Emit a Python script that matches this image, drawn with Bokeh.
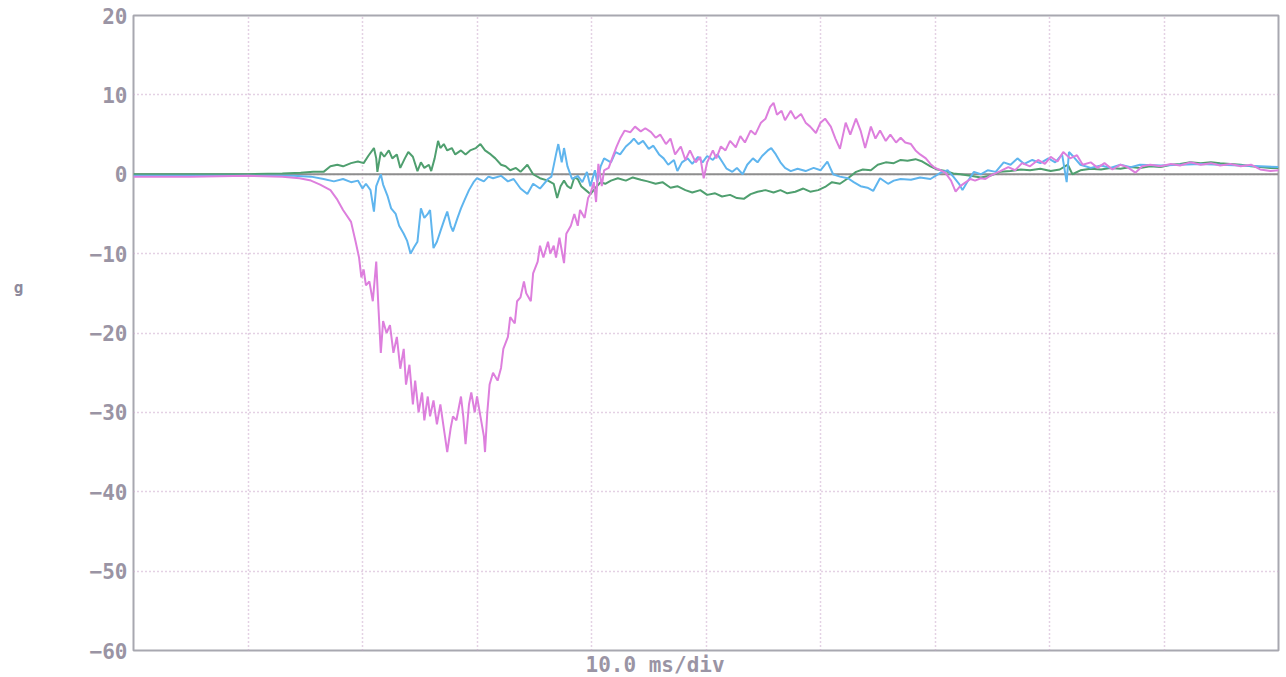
from bokeh.plotting import figure
from bokeh.models import Range1d, FixedTicker, LinearAxis, Title
from bokeh.embed import file_html
from bokeh.resources import INLINE

# ---- data (time in ms, acceleration in g) ----
t_mag = [0, 5, 10, 13, 14.5, 15.5, 16.3, 17.2, 17.8, 18.3, 19.0, 19.4, 19.7, 19.9, 20.1, 20.3, 20.6, 20.9,
         21.2, 21.4, 21.6, 21.8, 22.1, 22.4, 22.7, 23.0, 23.3, 23.6, 23.8, 24.1, 24.4, 24.6, 24.9, 25.2,
         25.4, 25.7, 25.9, 26.2, 26.5, 26.8, 27.2, 27.4, 27.7, 27.9, 28.2, 28.6, 28.8, 29.0, 29.3, 29.5,
         29.8, 30.0, 30.3, 30.6, 30.7, 30.9, 31.1, 31.4, 31.8, 32.1, 32.3, 32.7, 32.9, 33.3, 33.5, 33.8,
         34.1, 34.3, 34.7, 34.9, 35.3, 35.5, 35.8, 36.2, 36.4, 36.7, 36.9, 37.2, 37.6, 37.8, 38.2, 38.5,
         38.8, 39.0, 39.4, 39.7, 39.9, 40.2, 40.4, 40.6, 40.9, 41.1, 41.5, 41.8, 42.2, 42.5, 42.9, 43.4,
         43.8, 44.3, 44.7, 45.2, 45.6, 46.0, 46.5, 46.9, 47.3, 47.8, 48.2, 48.6, 49.1, 49.5, 49.8, 50.1,
         50.6, 50.9, 51.3, 51.7, 52.1, 52.6, 53.0, 53.4, 53.9, 54.3, 54.8, 55.2, 55.6, 55.9, 56.2, 56.6,
         56.9, 57.4, 57.8, 58.3, 58.7, 59.1, 59.6, 60.0, 60.4, 60.9, 61.3, 61.7, 62.2, 62.6, 63.1, 63.5,
         63.9, 64.4, 64.8, 65.2, 65.7, 66.1, 66.6, 67.0, 67.4, 67.9, 68.3, 68.7, 69.2, 69.6, 70.0, 70.5,
         70.9, 71.4, 71.8, 72.2, 72.7, 73.1, 73.5, 74.0, 74.4, 74.8, 75.7, 76.4, 77.0, 77.6, 78.3, 79.0,
         79.6, 80.1, 80.7, 81.2, 81.8, 82.4, 82.9, 83.6, 84.2, 84.8, 85.5, 86.2, 86.8, 87.5, 88.1, 88.8,
         89.7, 90.6, 91.4, 92.3, 93.2, 94.1, 94.9, 95.8, 96.7, 97.6, 98.4, 99.3, 100]
g_mag = [-0.3, -0.3, -0.2, -0.3, -0.5, -0.8, -1.3, -2.0, -3.2, -4.5, -6.0, -8.5, -10.5, -13.0, -12.0, -14.0,
         -13.5, -16.0, -11.0, -17.0, -22.5, -18.5, -20.0, -19.0, -22.5, -20.5, -24.5, -22.0, -26.5, -24.0,
         -29.0, -26.0, -30.0, -27.5, -31.0, -28.0, -30.5, -28.5, -31.5, -29.0, -33.0, -35.0, -32.0, -30.5,
         -31.0, -28.0, -30.5, -34.0, -29.0, -27.5, -30.0, -28.0, -30.5, -33.0, -35.0, -30.0, -26.5, -25.0,
         -26.0, -24.4, -22.0, -20.5, -18.0, -18.8, -16.0, -15.5, -13.5, -15.0, -16.0, -12.5, -11.0, -9.0,
         -10.5, -8.5, -10.0, -9.0, -10.5, -8.0, -11.2, -7.5, -6.5, -5.0, -6.5, -4.5, -5.5, -3.0, -2.5, -1.0,
         -3.5, 1.3, -1.5, 0.5, 0.8, 2.0, 3.5, 4.5, 5.5, 5.3, 6.0, 5.4, 5.8, 5.3, 4.6, 5.0, 3.8, 4.5, 2.5,
         3.5, 1.8, 3.0, 1.5, 2.2, -0.5, 1.5, 3.0, 2.0, 3.5, 3.0, 4.2, 3.4, 4.8, 4.0, 5.5, 5.0, 6.5, 7.0,
         8.5, 9.0, 7.5, 8.0, 6.8, 8.0, 7.0, 7.6, 6.5, 6.0, 5.2, 6.5, 7.0, 6.0, 4.5, 3.2, 6.5, 5.0, 7.0, 5.5,
         3.3, 6.0, 4.5, 5.5, 4.2, 5.0, 4.0, 4.6, 4.0, 3.8, 3.0, 2.5, 2.0, 1.3, 0.8, 0.5, 0.2, -0.8, -2.2,
         -1.5, -1.0, -0.6, -0.8, -0.5, -0.6, -0.2, 0.4, 0.9, 0.5, 1.4, 1.0, 1.8, 1.3, 2.2, 1.6, 2.8, 2.0,
         2.4, 1.2, 1.5, 0.8, 1.4, 0.6, 1.2, 0.9, 0.2, 1.0, 1.2, 1.0, 1.3, 1.1, 1.5, 1.2, 1.4, 1.1, 1.3, 1.0,
         1.2, 0.6, 0.4, 0.5]

t_blue = [0, 5, 10, 14, 15.5, 16.6, 17.5, 18.3, 19.0, 19.6, 20.0, 20.3, 20.7, 21.0, 21.2, 21.6, 21.8, 22.2,
          22.5, 22.9, 23.2, 23.6, 23.9, 24.2, 24.5, 24.8, 25.1, 25.4, 25.7, 25.9, 26.2, 26.5, 26.8, 27.2,
          27.4, 27.7, 27.9, 28.3, 28.6, 28.9, 29.3, 29.7, 30.0, 30.6, 31.0, 31.4, 32.1, 32.7, 33.2, 33.8,
          34.4, 34.9, 35.5, 36.2, 36.5, 36.9, 37.1, 37.4, 37.6, 37.9, 38.3, 38.8, 39.2, 39.6, 39.9, 40.3,
          40.5, 40.8, 41.1, 41.7, 42.1, 42.5, 43.0, 43.4, 43.7, 44.1, 44.5, 45.0, 45.4, 45.9, 46.3, 46.7,
          47.2, 47.5, 47.9, 48.4, 48.8, 49.3, 49.7, 50.1, 50.6, 51.0, 51.4, 51.8, 52.3, 52.7, 53.2, 53.6,
          54.1, 54.5, 54.9, 55.4, 55.7, 56.1, 56.5, 56.9, 57.4, 58.0, 58.7, 59.4, 60.0, 60.6, 61.1, 61.7,
          62.4, 62.9, 63.5, 64.1, 64.6, 65.2, 65.9, 66.4, 67.0, 67.9, 68.7, 69.6, 70.5, 71.1, 71.6, 72.1,
          72.4, 72.8, 73.4, 74.0, 74.6, 75.3, 76.0, 76.6, 77.2, 77.8, 78.5, 79.2, 79.9, 80.5, 81.1, 81.5,
          81.7, 82.1, 82.7, 83.6, 84.5, 85.3, 86.2, 87.1, 87.9, 89.7, 91.4, 93.2, 94.9, 96.7, 98.4, 100]
g_blue = [-0.2, -0.2, -0.2, -0.2, -0.3, -0.6, -0.9, -0.6, -1.0, -0.8, -1.8, -1.2, -2.0, -4.7, -1.5, 0.0,
          -1.3, -2.8, -4.3, -5.0, -6.5, -7.5, -8.4, -10.0, -9.2, -8.5, -4.3, -5.5, -5.0, -4.5, -9.3, -8.5,
          -7.2, -5.5, -4.7, -6.5, -7.2, -5.5, -4.3, -3.3, -2.0, -1.0, -0.5, -0.9, -0.3, -0.5, -0.2, -0.9,
          -0.6, -1.8, -2.5, -1.2, -1.8, -0.6, -0.3, 2.5, 3.8, 1.5, 3.3, 1.0, -0.6, -0.2, -1.0, 0.3, -1.5,
          0.5, -1.0, 1.0, 2.0, 1.5, 2.8, 2.5, 3.5, 4.0, 4.5, 3.8, 4.2, 3.2, 3.6, 2.5, 2.0, 1.2, 1.8, 0.4,
          1.5, 2.0, 1.3, 2.2, 1.5, 2.3, 1.8, 2.5, 1.6, 0.7, 0.3, 0.8, 0.0, 1.2, 2.0, 1.5, 2.3, 3.0, 3.3,
          2.5, 1.5, 0.8, 0.4, 0.7, 0.4, 0.8, 0.5, 1.6, 0.0, -0.3, -0.5, -1.0, -1.5, -1.7, -2.1, -0.5, -1.2,
          -0.8, -0.6, -0.7, -0.4, -0.6, 0.2, 0.5, -0.3, -1.2, -2.0, -1.0, 0.3, 0.0, 0.5, 0.3, 1.5, 1.2,
          2.0, 1.3, 1.8, 1.4, 2.0, 1.5, 2.5, -1.0, 2.8, 2.2, 1.2, 0.8, 1.1, 0.8, 1.2, 0.9, 1.2, 1.1, 1.2,
          1.3, 1.2, 1.1, 1.0, 0.9]

t_green = [0, 10, 13, 14.6, 15.7, 16.6, 17.2, 17.8, 18.3, 19.0, 19.6, 20.1, 20.5, 21.0, 21.2, 21.3, 21.6,
           21.9, 22.3, 22.6, 23.0, 23.3, 23.7, 24.0, 24.4, 24.8, 25.1, 25.4, 25.8, 26.0, 26.3, 26.6, 26.8,
           27.1, 27.4, 27.8, 28.1, 28.6, 29.0, 29.4, 29.9, 30.3, 30.7, 31.2, 31.6, 32.1, 32.5, 32.9, 33.4,
           33.8, 34.4, 34.9, 35.5, 36.2, 36.7, 37.0, 37.3, 37.6, 37.9, 38.2, 38.5, 38.8, 39.1, 39.5, 39.9,
           40.3, 40.8, 41.2, 41.7, 42.3, 43.0, 43.6, 44.3, 44.9, 45.6, 46.2, 46.9, 47.5, 48.2, 48.8, 49.5,
           50.1, 50.8, 51.4, 52.1, 52.7, 53.3, 53.9, 54.5, 55.2, 55.9, 56.5, 57.1, 57.8, 58.5, 59.1, 59.8,
           60.4, 61.0, 61.7, 62.4, 63.1, 63.7, 64.4, 65.0, 65.7, 66.4, 67.0, 67.6, 68.3, 68.9, 69.6, 70.2,
           70.9, 71.6, 72.2, 73.1, 74.0, 74.8, 75.7, 76.6, 77.5, 78.3, 79.2, 80.1, 80.9, 81.6, 82.0, 82.7,
           83.6, 84.5, 85.3, 86.2, 87.1, 87.9, 88.8, 89.7, 90.6, 91.4, 92.3, 93.2, 94.1, 94.9, 95.8, 96.7,
           97.6, 98.4, 99.3, 100]
g_green = [0.0, 0.0, 0.1, 0.2, 0.3, 0.3, 1.0, 1.2, 1.0, 1.4, 1.6, 1.4, 2.3, 3.3, 2.0, 0.3, 2.8, 2.2, 3.0,
           2.0, 2.5, 0.8, 2.0, 2.8, 2.2, 0.4, 1.5, 0.8, 1.2, 0.4, 2.0, 4.2, 3.3, 3.8, 3.0, 3.3, 2.5, 3.0,
           2.5, 3.0, 3.3, 3.8, 3.0, 2.5, 2.0, 1.2, 1.0, 0.5, 0.8, 0.3, 1.2, 0.0, -0.5, -0.8, -1.2, -3.0,
           -1.5, -0.8, -1.5, -1.8, -0.4, -0.6, -1.5, -2.0, -2.5, -1.8, -1.0, -1.2, -0.8, -0.5, -0.8, -0.4,
           -0.7, -0.9, -1.2, -1.0, -1.7, -1.5, -2.0, -2.3, -2.0, -2.6, -2.4, -2.8, -2.6, -3.0, -3.1, -2.5,
           -2.2, -2.0, -2.3, -2.0, -2.4, -2.2, -1.8, -2.2, -2.0, -1.6, -1.0, -1.2, -0.5, 0.3, 0.6, 0.5, 1.2,
           1.5, 1.4, 1.8, 1.7, 1.9, 1.6, 1.0, 0.6, 0.4, 0.1, 0.0, -0.2, -0.4, -0.2, 0.3, 0.4, 0.6, 0.5, 0.7,
           0.4, 0.6, 1.2, 0.0, 0.5, 0.7, 0.6, 0.8, 0.7, 0.9, 0.8, 1.0, 0.9, 1.2, 1.3, 1.5, 1.4, 1.5, 1.4,
           1.3, 1.2, 1.0, 0.9, 0.8, 0.8]

y_ticks = [-60, -50, -40, -30, -20, -10, 0, 10, 20]
x_ticks = [0, 10, 20, 30, 40, 50, 60, 70, 80, 90, 100]
x_label = "10.0 ms/div"
y_label = "g"

FONT = "DejaVu Sans Mono"
LABEL_COLOR = "#9a94a4"

p = figure(width=1280, height=676, output_backend="svg", toolbar_location=None,
           x_range=Range1d(0, 100), y_range=Range1d(-60, 20),
           min_border_left=133, min_border_right=2, min_border_top=15, min_border_bottom=26)

p.background_fill_color = "white"
p.border_fill_color = "white"
p.outline_line_color = "#a8a8b0"
p.outline_line_width = 2

# grids
p.xgrid.ticker = FixedTicker(ticks=x_ticks)
p.ygrid.ticker = FixedTicker(ticks=y_ticks)
for gr in (p.xgrid, p.ygrid):
    gr.grid_line_color = "#c9a3c9"
    gr.grid_line_dash = "1 3"
    gr.grid_line_width = 1.5

# x axis hidden (divisions shown by grid only); label as a title below
p.xaxis.visible = False
p.add_layout(Title(text=x_label, align="left", offset=452, standoff=0,
                   text_font=FONT, text_font_style="bold", text_font_size="21px",
                   text_color=LABEL_COLOR), "below")

# y axis with tick labels
p.yaxis.ticker = FixedTicker(ticks=y_ticks)
p.yaxis.major_tick_line_color = None
p.yaxis.minor_tick_line_color = None
p.yaxis.major_tick_out = 0
p.yaxis.major_tick_in = 0
p.yaxis.axis_line_color = None
p.yaxis.major_label_standoff = 6
p.yaxis.major_label_text_font = FONT
p.yaxis.major_label_text_font_style = "bold"
p.yaxis.major_label_text_font_size = "21px"
p.yaxis.major_label_text_color = LABEL_COLOR

# second (label-only) y axis carrying the unit label
ax2 = LinearAxis(ticker=FixedTicker(ticks=[]),
                 axis_line_color=None, major_tick_line_color=None, minor_tick_line_color=None,
                 major_tick_out=0, major_tick_in=0, minor_tick_out=0,
                 axis_label=y_label + "\n\n\n\n", axis_label_orientation="horizontal",
                 axis_label_standoff=63, axis_label_text_font=FONT,
                 axis_label_text_font_style="bold", axis_label_text_font_size="16px",
                 axis_label_text_line_height=1.2,
                 axis_label_text_color="#8e8a9c")
p.add_layout(ax2, "left")

# zero reference line
p.line(x=[x_ticks[0], x_ticks[-1]], y=[0, 0], line_color="#8e8e8e", line_width=2)

# traces
p.line(t_green, g_green, line_color="#4f9f6f", line_width=2)
p.line(t_blue, g_blue, line_color="#5fb5ee", line_width=2)
p.line(t_mag, g_mag, line_color="#dd7fdd", line_width=2)

open("out.html", "w").write(file_html(p, INLINE))
